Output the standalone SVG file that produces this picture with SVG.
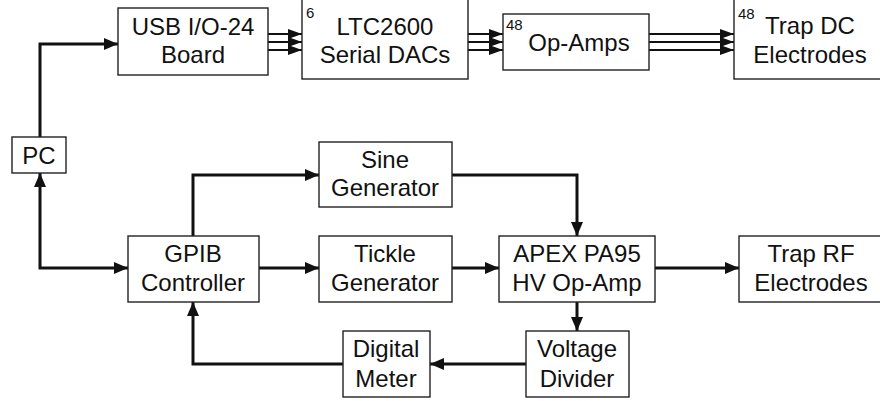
<svg xmlns="http://www.w3.org/2000/svg" width="880" height="401" viewBox="0 0 880 401">
<style>
.box{fill:#fff;stroke:#222;stroke-width:1.4}
.t{font-family:"Liberation Sans",Arial,sans-serif;font-size:24px;fill:#111;text-anchor:middle}
.sup{font-family:"Liberation Sans",Arial,sans-serif;font-size:15px;fill:#111}
.c{fill:none;stroke:#111;stroke-width:3}
.b{fill:none;stroke:#111;stroke-width:2.2}
</style>
<defs>
<marker id="ah" markerUnits="userSpaceOnUse" markerWidth="16" markerHeight="14" refX="14" refY="7" orient="auto">
<path d="M0,1 L14,7 L0,13 z" fill="#111"/>
</marker>
<marker id="as" markerUnits="userSpaceOnUse" markerWidth="16" markerHeight="12" refX="14" refY="6" orient="auto">
<path d="M0,1 L14,6 L0,11 z" fill="#111"/>
</marker>
<marker id="ahs" markerUnits="userSpaceOnUse" markerWidth="16" markerHeight="14" refX="0" refY="7" orient="auto">
<path d="M14,1 L0,7 L14,13 z" fill="#111"/>
</marker>
</defs>
<rect width="880" height="401" fill="#fff"/>
<g id="connectors">
<path class="c" d="M40,137 V44 H118" marker-end="url(#ah)"/>
<path class="c" d="M40,173 V268 H128" marker-start="url(#ahs)" marker-end="url(#ah)"/>
<line class="b" x1="268" y1="34" x2="302" y2="34" marker-end="url(#as)"/>
<line class="b" x1="268" y1="42" x2="302" y2="42" marker-end="url(#as)"/>
<line class="b" x1="268" y1="50" x2="302" y2="50" marker-end="url(#as)"/>
<line class="b" x1="468" y1="34" x2="503" y2="34" marker-end="url(#as)"/>
<line class="b" x1="468" y1="42" x2="503" y2="42" marker-end="url(#as)"/>
<line class="b" x1="468" y1="50" x2="503" y2="50" marker-end="url(#as)"/>
<line class="b" x1="649" y1="34" x2="734" y2="34" marker-end="url(#as)"/>
<line class="b" x1="649" y1="42" x2="734" y2="42" marker-end="url(#as)"/>
<line class="b" x1="649" y1="50" x2="734" y2="50" marker-end="url(#as)"/>
<path class="c" d="M193,236 V175 H319" marker-end="url(#ah)"/>
<path class="c" d="M452,175 H577 V236" marker-end="url(#ah)"/>
<line class="c" x1="259" y1="268" x2="319" y2="268" marker-end="url(#ah)"/>
<line class="c" x1="452" y1="268" x2="499" y2="268" marker-end="url(#ah)"/>
<line class="c" x1="655" y1="268" x2="739" y2="268" marker-end="url(#ah)"/>
<line class="c" x1="577" y1="302" x2="577" y2="331" marker-end="url(#ah)"/>
<line class="c" x1="526" y1="364" x2="430" y2="364" marker-end="url(#ah)"/>
<path class="c" d="M343,364 H193 V302" marker-end="url(#ah)"/>
</g>
<g id="usb"><rect class="box" x="118" y="8" width="150" height="67"/>
<text class="t" x="193" y="35">USB I/O-24</text><text class="t" x="193" y="63">Board</text></g>
<g id="ltc"><rect class="box" x="302" y="-4" width="166" height="83"/>
<text class="sup" x="306" y="18">6</text>
<text class="t" x="385" y="35">LTC2600</text><text class="t" x="385" y="63">Serial DACs</text></g>
<g id="opamps"><rect class="box" x="503" y="14" width="146" height="56"/>
<text class="sup" x="506" y="30">48</text>
<text class="t" x="579" y="51">Op-Amps</text></g>
<g id="trapdc"><rect class="box" x="734" y="-4" width="150" height="83"/>
<text class="sup" x="738" y="19">48</text>
<text class="t" x="810" y="34">Trap DC</text><text class="t" x="810" y="63">Electrodes</text></g>
<g id="pc"><rect class="box" x="12" y="137" width="54" height="36"/>
<text class="t" x="39" y="164">PC</text></g>
<g id="sine"><rect class="box" x="319" y="142" width="133" height="65"/>
<text class="t" x="385" y="168">Sine</text><text class="t" x="385" y="196">Generator</text></g>
<g id="gpib"><rect class="box" x="128" y="236" width="131" height="66"/>
<text class="t" x="193" y="262">GPIB</text><text class="t" x="193" y="291">Controller</text></g>
<g id="tickle"><rect class="box" x="319" y="236" width="133" height="66"/>
<text class="t" x="385" y="262">Tickle</text><text class="t" x="385" y="291">Generator</text></g>
<g id="apex"><rect class="box" x="499" y="236" width="156" height="66"/>
<text class="t" x="577" y="262">APEX PA95</text><text class="t" x="577" y="291">HV Op-Amp</text></g>
<g id="traprf"><rect class="box" x="739" y="236" width="146" height="66"/>
<text class="t" x="811" y="262">Trap RF</text><text class="t" x="811" y="291">Electrodes</text></g>
<g id="meter"><rect class="box" x="343" y="331" width="87" height="66"/>
<text class="t" x="386" y="357">Digital</text><text class="t" x="386" y="387">Meter</text></g>
<g id="divider"><rect class="box" x="526" y="331" width="103" height="66"/>
<text class="t" x="577" y="357">Voltage</text><text class="t" x="577" y="387">Divider</text></g>
</svg>
